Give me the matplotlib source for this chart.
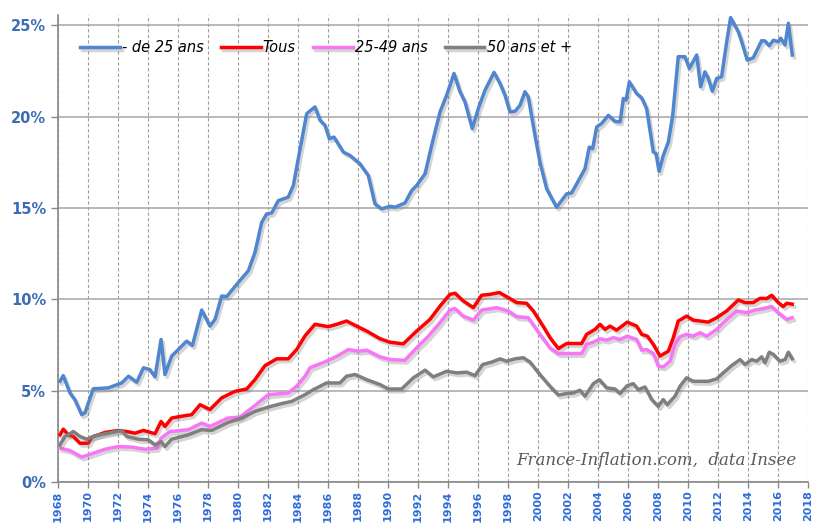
import matplotlib

matplotlib.use("Agg")
import matplotlib.pyplot as plt
import matplotlib.patheffects as pe

# Taux de chômage par âge (%)
years_moins25 = [1968.13, 1968.35, 1968.8, 1969.13, 1969.58, 1969.8, 1970.35, 1971.35, 1972.25, 1972.7,
                 1973.25, 1973.7, 1974.13, 1974.47, 1974.87, 1975.13, 1975.58, 1976.13, 1976.58, 1976.96,
                 1977.58, 1978.13, 1978.47, 1978.91, 1979.25, 1980.02, 1980.69, 1981.13, 1981.58, 1981.91,
                 1982.25, 1982.69, 1983.35, 1983.69, 1984.13, 1984.58, 1985.13, 1985.47, 1985.8, 1986.09,
                 1986.4, 1987.02, 1987.47, 1988.13, 1988.69, 1989.13, 1989.58, 1990.13, 1990.47, 1991.13,
                 1991.58, 1991.91, 1992.47, 1992.91, 1993.47, 1993.91, 1994.4, 1994.8, 1995.13, 1995.62,
                 1996.02, 1996.47, 1997.07, 1997.47, 1997.8, 1998.13, 1998.47, 1998.8, 1999.13, 1999.35,
                 1999.8, 2000.13, 2000.58, 2001.24, 2001.91, 2002.24, 2003.13, 2003.42, 2003.64, 2003.91,
                 2004.24, 2004.69, 2005.13, 2005.47, 2005.69, 2005.87, 2006.09, 2006.58, 2006.91, 2007.24,
                 2007.69, 2007.87, 2008.07, 2008.35, 2008.69, 2008.98, 2009.35, 2009.8, 2010.09, 2010.58,
                 2010.84, 2011.13, 2011.35, 2011.62, 2011.91, 2012.24, 2012.58, 2012.84, 2013.35, 2013.58,
                 2013.95, 2014.35, 2014.91, 2015.13, 2015.42, 2015.69, 2016.02, 2016.18, 2016.47, 2016.69,
                 2016.95]
moins25 = [5.51, 5.82, 4.87, 4.5, 3.68, 3.79, 5.1, 5.15, 5.42, 5.79,
           5.46, 6.25, 6.15, 5.75, 7.8, 5.88, 6.89, 7.34, 7.71, 7.47,
           9.41, 8.53, 8.9, 10.18, 10.15, 10.92, 11.56, 12.56, 14.21, 14.67,
           14.73, 15.4, 15.59, 16.23, 18.2, 20.16, 20.53, 19.8, 19.52, 18.79,
           18.88, 18.06, 17.87, 17.42, 16.77, 15.22, 14.95, 15.09, 15.04, 15.27,
           15.95, 16.23, 16.87, 18.42, 20.26, 21.17, 22.36, 21.36, 20.81, 19.34,
           20.44, 21.45, 22.42, 21.81, 21.17, 20.26, 20.29, 20.62, 21.36, 21.08,
           18.97, 17.5, 16.04, 15.04, 15.77, 15.82, 17.14, 18.33, 18.24, 19.43,
           19.62, 20.07, 19.74, 19.71, 20.99, 20.9, 21.9, 21.26, 21.03, 20.44,
           18.06, 17.97, 17.0, 17.87, 18.61, 20.07, 23.28, 23.28, 22.64, 23.37,
           21.63, 22.45, 22.09, 21.39, 22.09, 22.18, 24.1, 25.42, 24.65, 24.1,
           23.09, 23.22, 24.16, 24.14, 23.88, 24.18, 24.1, 24.29, 23.92, 25.11,
           23.37]

years_tous = [1968.13, 1968.35, 1968.69, 1969.02, 1969.47, 1970.02, 1970.24, 1971.13, 1972.02, 1972.58,
              1973.13, 1973.69, 1974.47, 1974.87, 1975.13, 1975.58, 1976.47, 1976.91, 1977.47, 1978.13,
              1978.91, 1979.8, 1980.58, 1981.13, 1981.8, 1982.58, 1983.35, 1983.91, 1984.47, 1985.13,
              1986.02, 1986.58, 1987.24, 1987.91, 1988.58, 1989.47, 1990.13, 1991.02, 1991.91, 1992.8,
              1993.47, 1994.13, 1994.47, 1995.02, 1995.69, 1996.24, 1996.8, 1997.42, 1998.02, 1998.58,
              1999.24, 1999.69, 2000.36, 2000.8, 2001.36, 2001.91, 2002.91, 2003.24, 2003.8, 2004.13,
              2004.47, 2004.8, 2005.24, 2005.95, 2006.58, 2006.91, 2007.29, 2007.69, 2008.13, 2008.69,
              2009.02, 2009.35, 2009.91, 2010.35, 2011.35, 2011.91, 2012.58, 2013.35, 2013.8, 2014.35,
              2014.8, 2015.24, 2015.58, 2016.02, 2016.35, 2016.58, 2016.95]
tous = [2.58, 2.89, 2.58, 2.49, 2.12, 2.12, 2.45, 2.71, 2.82, 2.76,
        2.67, 2.82, 2.64, 3.31, 3.04, 3.5, 3.63, 3.68, 4.23, 3.96,
        4.6, 4.96, 5.09, 5.6, 6.37, 6.74, 6.74, 7.25, 8.0, 8.63,
        8.5, 8.63, 8.81, 8.53, 8.26, 7.84, 7.65, 7.56, 8.26, 8.9,
        9.63, 10.27, 10.33, 9.91, 9.54, 10.22, 10.27, 10.37, 10.09, 9.82,
        9.78, 9.36, 8.5, 7.9, 7.3, 7.58, 7.58, 8.08, 8.35, 8.63,
        8.35, 8.53, 8.31, 8.75, 8.53, 8.08, 7.98, 7.53, 6.89, 7.16,
        7.9, 8.81, 9.08, 8.86, 8.75, 8.99, 9.36, 9.96, 9.82, 9.82,
        10.05, 10.04, 10.22, 9.82, 9.6, 9.78, 9.73]

years_25_49 = [1968.13, 1968.8, 1969.58, 1970.24, 1971.13, 1972.02, 1972.91, 1973.8, 1974.58, 1974.87,
               1975.47, 1976.69, 1977.58, 1978.13, 1979.35, 1980.13, 1981.13, 1982.02, 1983.35, 1983.91,
               1984.47, 1984.8, 1985.91, 1986.69, 1987.36, 1988.02, 1988.58, 1989.47, 1990.13, 1991.13,
               1991.91, 1992.69, 1993.47, 1994.13, 1994.47, 1995.02, 1995.69, 1996.24, 1997.24, 1998.02,
               1998.58, 1999.35, 2000.13, 2000.8, 2001.36, 2001.91, 2002.91, 2003.24, 2003.69, 2004.13,
               2004.58, 2005.02, 2005.47, 2005.95, 2006.58, 2006.91, 2007.24, 2007.69, 2008.02, 2008.35,
               2008.8, 2009.13, 2009.47, 2009.91, 2010.35, 2010.8, 2011.24, 2011.91, 2012.47, 2013.24,
               2013.91, 2014.47, 2015.02, 2015.58, 2016.02, 2016.58, 2016.95]
age_25_49 = [1.85, 1.72, 1.36, 1.54, 1.79, 1.94, 1.91, 1.79, 1.85, 2.4,
             2.76, 2.86, 3.22, 3.04, 3.5, 3.55, 4.18, 4.78, 4.87, 5.24,
             5.79, 6.25, 6.61, 6.92, 7.25, 7.16, 7.21, 6.85, 6.7, 6.66,
             7.34, 7.98, 8.72, 9.41, 9.49, 9.08, 8.86, 9.41, 9.54, 9.36,
             9.05, 8.99, 8.08, 7.34, 7.02, 7.03, 7.03, 7.53, 7.65, 7.84,
             7.76, 7.9, 7.8, 7.98, 7.8, 7.21, 7.25, 7.03, 6.34, 6.3,
             6.61, 7.53, 7.95, 8.08, 7.98, 8.17, 7.98, 8.35, 8.81, 9.36,
             9.27, 9.41, 9.49, 9.6, 9.27, 8.9, 8.99]

years_50plus = [1968.13, 1968.47, 1969.02, 1969.47, 1969.91, 1970.47, 1971.35, 1972.25, 1972.58, 1973.35,
                1974.02, 1974.47, 1974.87, 1975.13, 1975.58, 1976.69, 1977.58, 1978.24, 1979.35, 1980.25,
                1981.13, 1982.02, 1982.91, 1983.58, 1984.47, 1985.02, 1985.91, 1986.8, 1987.24, 1987.8,
                1988.58, 1989.47, 1990.02, 1990.91, 1991.69, 1992.47, 1993.02, 1993.91, 1994.58, 1995.24,
                1995.8, 1996.31, 1996.91, 1997.47, 1997.91, 1998.47, 1999.02, 1999.47, 2000.13, 2000.8,
                2001.36, 2001.91, 2002.35, 2002.8, 2003.13, 2003.69, 2004.09, 2004.58, 2005.13, 2005.47,
                2005.95, 2006.35, 2006.69, 2007.13, 2007.58, 2008.02, 2008.35, 2008.62, 2009.13, 2009.47,
                2009.91, 2010.35, 2010.8, 2011.35, 2011.91, 2012.35, 2012.91, 2013.47, 2013.8, 2014.25,
                2014.58, 2014.91, 2015.13, 2015.42, 2015.69, 2016.13, 2016.47, 2016.69, 2016.95]
age_50plus = [2.03, 2.49, 2.76, 2.49, 2.34, 2.53, 2.67, 2.82, 2.49, 2.34,
              2.31, 2.03, 2.21, 1.94, 2.34, 2.58, 2.86, 2.82, 3.26, 3.5,
              3.86, 4.1, 4.29, 4.41, 4.78, 5.05, 5.42, 5.42, 5.79, 5.88,
              5.6, 5.33, 5.09, 5.09, 5.7, 6.12, 5.75, 6.06, 5.97, 6.01,
              5.82, 6.43, 6.56, 6.74, 6.61, 6.74, 6.8, 6.56, 5.88, 5.24,
              4.76, 4.84, 4.87, 5.02, 4.69, 5.38, 5.6, 5.15, 5.09, 4.84,
              5.27, 5.38, 5.05, 5.2, 4.51, 4.14, 4.51, 4.23, 4.69, 5.24,
              5.7, 5.51, 5.51, 5.51, 5.64, 5.97, 6.37, 6.7, 6.43, 6.7,
              6.61, 6.85, 6.52, 7.1, 6.98, 6.61, 6.7, 7.1, 6.74]

series_labels = ["- de 25 ans", "Tous", "25-49 ans", "50 ans et +"]
series_colors = ["#4F86CF", "#FF0000", "#F875F5", "#7F7F7F"]

x_ticks = list(range(1968, 2019, 2))
y_ticks = [0, 5, 10, 15, 20, 25]

fig = plt.figure(figsize=(8.17, 5.25), dpi=100)
ax = fig.add_axes([0.071, 0.082, 0.918, 0.889])

shadow = [pe.SimpleLineShadow(offset=(1.5, -2), shadow_color="#777777", alpha=0.3),
          pe.Normal()]

all_series = [(years_moins25, moins25), (years_tous, tous),
              (years_25_49, age_25_49), (years_50plus, age_50plus)]
for (xs, ys), label, color in zip(all_series, series_labels, series_colors):
    ax.plot(xs, ys, color=color, lw=2.5, label=label, path_effects=shadow,
            solid_joinstyle="round", zorder=3)

ax.set_xlim(1968, 2018)
ax.set_ylim(0, 25.55)

ax.set_xticks(x_ticks)
ax.set_xticklabels([str(y) for y in x_ticks], rotation=90, color="#2F6CDA",
                   fontsize=8, fontweight="bold")
ax.set_yticks(y_ticks)
ax.set_yticklabels([f"{v}%" for v in y_ticks], color="#3A6DB5",
                   fontsize=10.5, fontweight="bold")
ax.tick_params(axis="both", direction="out", length=5, color="#888888", width=1)
ax.tick_params(axis="x", length=4, pad=2)

# horizontal solid grid, vertical dashed grid
ax.yaxis.grid(True, color="#A6A6A6", lw=1.1, ls="-")
ax.xaxis.grid(True, color="#A0A0A0", lw=0.8, ls=(0, (3, 2)))
ax.set_axisbelow(True)

for side in ("top", "right"):
    ax.spines[side].set_visible(False)
for side in ("left", "bottom"):
    ax.spines[side].set_color("#888888")
    ax.spines[side].set_linewidth(1.2)

ax.legend(loc="center left", bbox_to_anchor=(0.022, 0.931), ncol=4, frameon=False,
          prop={"style": "italic", "size": 10.5}, handlelength=2.7,
          handletextpad=0.15, columnspacing=1.2, borderaxespad=0)

ax.text(0.984, 0.045, "France-Inflation.com,  data Insee", transform=ax.transAxes,
        ha="right", va="center", fontsize=12, style="italic",
        family="DejaVu Serif", color="#5A5A5A")

fig.savefig("out.png", dpi=100)
